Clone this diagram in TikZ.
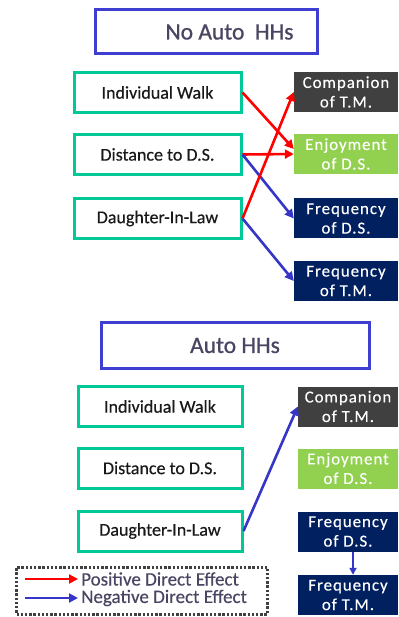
\documentclass[tikz,border=0pt]{standalone}
\usepackage{fontspec}
\setmainfont[FakeBold=0.4]{Carlito}
\newfontfamily\widefont[LetterSpace=6,FakeBold=0.3]{Carlito}
\newfontfamily\headfont[FakeBold=0.9]{Carlito}
\usetikzlibrary{arrows.meta,calc}
\definecolor{titleblue}{HTML}{3E3ED0}
\definecolor{titletext}{HTML}{4A4563}
\definecolor{boxgreen}{HTML}{00C997}
\definecolor{posred}{HTML}{FF0000}
\definecolor{negblue}{HTML}{3535C8}
\definecolor{darkgray}{HTML}{404040}
\definecolor{lightgreen}{HTML}{92D050}
\definecolor{navy}{HTML}{002060}
\definecolor{legendgray}{HTML}{404040}
\begin{document}
\begin{tikzpicture}[x=1pt,y=-1pt,
  titlebox/.style={draw=titleblue,line width=3pt,fill=white,inner sep=0pt,
    text=titletext,font=\headfont\fontsize{23.5}{26}\selectfont},
  factor/.style={draw=boxgreen,line width=3pt,fill=white,inner sep=0pt,
    minimum height=40pt,text=black!90,font=\fontsize{18}{20}\selectfont},
  outcome/.style={inner sep=0pt,minimum height=40pt,text=white,align=center,
    font=\widefont\fontsize{16.8}{19.5}\selectfont},
  posarrow/.style={draw=posred,line width=2.6pt,-{Triangle[length=9pt,width=9pt]}},
  negarrow/.style={draw=negblue,line width=2.6pt,-{Triangle[length=9pt,width=9pt]}},
  legendtext/.style={anchor=west,inner sep=0pt,text=titletext,font=\fontsize{19}{21}\selectfont}]
\useasboundingbox (0,0) rectangle (398,617);

% ---- upper panel: households without cars ----
\node[titlebox,minimum width=222pt,minimum height=44pt] (t1) at (206.5,32) {\hspace*{46pt}No Auto~~HHs};

\node[factor,minimum width=167pt] (walk1) at (157.5,92.5) {Individual Walk};
\node[factor,minimum width=167pt] (dist1) at (157.5,154.5) {Distance to D.S.};
\node[factor,minimum width=167pt] (dil1)  at (157.5,218.5) {Daughter-In-Law};

\node[outcome,fill=darkgray,minimum width=104pt]  (comp1) at (346,92)    {Companion\\of T.M.};
\node[outcome,fill=lightgreen,minimum width=104pt] (enj1) at (346,154)   {Enjoyment\\of D.S.};
\node[outcome,fill=navy,minimum width=104pt]      (fds1)  at (346,218.5) {Frequency\\of D.S.};
\node[outcome,fill=navy,minimum width=104pt]      (ftm1)  at (346,281)   {Frequency\\of T.M.};

\draw[posarrow] (walk1.east) -- ($(enj1.west)+(0,-5)$);
\draw[posarrow] (dist1.east) -- (enj1.west);
\draw[negarrow] (dist1.east) -- (fds1.west);
\draw[posarrow] (dil1.east) -- (comp1.west);
\draw[negarrow] (dil1.east) -- (ftm1.west);

% ---- lower panel: households with cars ----
\node[titlebox,minimum width=268pt,minimum height=46pt] (t2) at (235,345.5) {Auto HHs};

\node[factor,minimum width=164pt] (walk2) at (160,406.5) {Individual Walk};
\node[factor,minimum width=164pt] (dist2) at (160,468)   {Distance to D.S.};
\node[factor,minimum width=164pt] (dil2)  at (160,531)   {Daughter-In-Law};

\node[outcome,fill=darkgray,minimum width=100pt]  (comp2) at (348,406.5) {Companion\\of T.M.};
\node[outcome,fill=lightgreen,minimum width=100pt] (enj2) at (348,468.5) {Enjoyment\\of D.S.};
\node[outcome,fill=navy,minimum width=100pt]      (fds2)  at (348,531.5) {Frequency\\of D.S.};
\node[outcome,fill=navy,minimum width=100pt]      (ftm2)  at (348,595)   {Frequency\\of T.M.};

\draw[negarrow] (dil2.east) -- (comp2.west);
\draw[draw=negblue,line width=2.2pt,-{Triangle[length=7pt,width=7pt]}]
  ($(fds2.south)+(5,0)$) -- ($(ftm2.north)+(5,0)$);

% ---- legend ----
\node[draw=legendgray,line width=3pt,dash pattern=on 2.4pt off 1.8pt,
  minimum width=251pt,minimum height=47pt,inner sep=0pt] (legend) at (142,590.5) {};
\coordinate (pa) at (25,579);
\coordinate (pb) at (78,579);
\coordinate (na) at (25,598);
\coordinate (nb) at (78,598);
\draw[posarrow] (pa) -- (pb);
\draw[negarrow] (na) -- (nb);
\node[legendtext] (lpos) at (81,579) {Positive Direct Effect};
\node[legendtext] (lneg) at (81,598) {Negative Direct Effect};
\end{tikzpicture}
\end{document}
